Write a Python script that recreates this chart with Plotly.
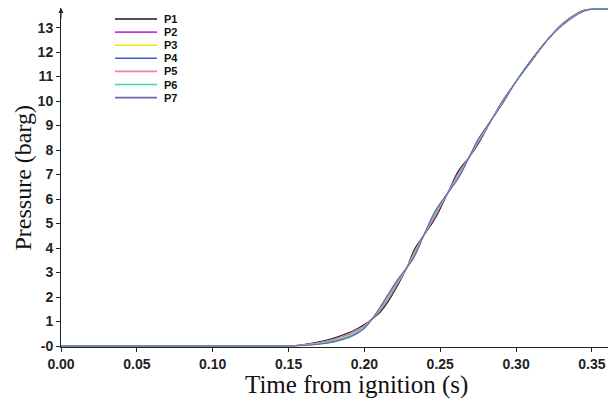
import plotly.graph_objects as go

time_s = [0, 0.10, 0.14, 0.15, 0.16, 0.17, 0.18, 0.19, 0.195, 0.20, 0.205, 0.21, 0.2155, 0.222,
          0.228, 0.233, 0.239, 0.247, 0.255, 0.262, 0.269, 0.275, 0.28, 0.29, 0.30, 0.31,
          0.32, 0.33, 0.34, 0.345, 0.35, 0.362]

p1 = [0, 0, 0, 0, 0.06, 0.17, 0.33, 0.55, 0.70, 0.88, 1.10, 1.35, 1.80, 2.48, 3.20, 3.95, 4.50,
      5.25, 6.25, 7.15, 7.70, 8.25, 8.80, 9.90, 10.80, 11.62, 12.45, 13.13, 13.58, 13.72, 13.75, 13.75]
p2 = [0, 0, 0, 0, 0.05, 0.14, 0.28, 0.49, 0.64, 0.83, 1.10, 1.41, 1.89, 2.55, 3.20, 3.86, 4.50,
      5.34, 6.25, 7.06, 7.70, 8.31, 8.83, 9.87, 10.80, 11.64, 12.45, 13.11, 13.56, 13.71, 13.75, 13.75]
p3 = [0, 0, 0, 0, 0.04, 0.11, 0.23, 0.43, 0.58, 0.78, 1.10, 1.47, 1.98, 2.62, 3.20, 3.77, 4.50,
      5.43, 6.25, 6.97, 7.70, 8.37, 8.86, 9.84, 10.80, 11.66, 12.45, 13.09, 13.54, 13.70, 13.75, 13.75]
p4 = [0, 0, 0, 0, 0.03, 0.09, 0.19, 0.38, 0.53, 0.74, 1.10, 1.52, 2.06, 2.68, 3.20, 3.70, 4.50,
      5.51, 6.25, 6.90, 7.70, 8.42, 8.89, 9.82, 10.80, 11.67, 12.45, 13.08, 13.53, 13.69, 13.75, 13.75]
p5 = [0, 0, 0, 0, 0.04, 0.13, 0.27, 0.47, 0.62, 0.82, 1.10, 1.43, 1.92, 2.58, 3.20, 3.83, 4.50,
      5.37, 6.25, 7.03, 7.70, 8.33, 8.84, 9.86, 10.80, 11.64, 12.45, 13.11, 13.56, 13.70, 13.75, 13.75]
p6 = [0, 0, 0, 0, 0.03, 0.10, 0.22, 0.41, 0.56, 0.77, 1.10, 1.49, 2.01, 2.65, 3.20, 3.74, 4.50,
      5.46, 6.25, 6.94, 7.70, 8.39, 8.87, 9.83, 10.80, 11.66, 12.45, 13.09, 13.54, 13.69, 13.75, 13.75]
p7 = [0, 0, 0, 0, 0.02, 0.07, 0.17, 0.35, 0.50, 0.72, 1.10, 1.55, 2.10, 2.72, 3.20, 3.65, 4.50,
      5.55, 6.25, 6.85, 7.70, 8.45, 8.90, 9.80, 10.80, 11.68, 12.45, 13.07, 13.52, 13.68, 13.75, 13.75]

series_names = ["P1", "P2", "P3", "P4", "P5", "P6", "P7"]
series_vals = [p1, p2, p3, p4, p5, p6, p7]
colors = ["#1a1a1a", "#c43cc4", "#e6e617", "#3b5bd6", "#e883b0", "#3fdca0", "#6b66b0"]

x_ticks = [0, 0.05, 0.10, 0.15, 0.20, 0.25, 0.30, 0.35]
x_ticklabels = ["0.00", "0.05", "0.10", "0.15", "0.20", "0.25", "0.30", "0.35"]
y_ticks = list(range(0, 14))
y_ticklabels = ["-0"] + [str(v) for v in range(1, 14)]

W, H = 610, 407
ML, MR, MT, MB = 61, 2, 8, 60
PW, PH = W - ML - MR, H - MT - MB

fig = go.Figure()
for name, vals, col in zip(series_names, series_vals, colors):
    fig.add_trace(go.Scatter(x=time_s, y=vals, name=name, mode="lines", showlegend=False,
                             line=dict(color=col, width=1.1, shape="spline", smoothing=1.0)))

# Compact legend (line samples + labels) in paper coordinates
shapes = []
annotations = []
leg_x0, leg_x1, leg_txt = 115, 157, 162
for i, (name, col) in enumerate(zip(series_names, colors)):
    ypix = 19 + 13.1 * i
    yp = 1 - (ypix - MT) / PH
    shapes.append(dict(type="line", xref="paper", yref="paper",
                       x0=(leg_x0 - ML) / PW, x1=(leg_x1 - ML) / PW, y0=yp, y1=yp,
                       line=dict(color=col, width=1.6)))
    annotations.append(dict(text="<b>" + name + "</b>", xref="paper", yref="paper",
                            x=(leg_txt - ML) / PW, y=yp, xanchor="left", yanchor="middle",
                            showarrow=False,
                            font=dict(family="Liberation Sans", size=11, color="#111")))

annotations += [
    dict(text="Time from ignition (s)", xref="paper", yref="paper",
         x=0.54, y=0, yshift=-38, showarrow=False, yanchor="middle", xanchor="center",
         font=dict(family="Liberation Serif", size=25, color="#111")),
    dict(text="Pressure (barg)", xref="paper", yref="paper",
         x=0, xshift=-39, y=0.5, textangle=-90, showarrow=False, xanchor="center",
         yanchor="middle",
         font=dict(family="Liberation Serif", size=24, color="#111")),
    dict(x=0, y=13.8, xref="x", yref="y", ax=0, ay=12, axref="pixel", ayref="pixel",
         showarrow=True, arrowhead=2, arrowsize=1, arrowwidth=1, arrowcolor="#222",
         text=""),
]

fig.update_layout(
    width=W, height=H,
    margin=dict(l=ML, r=MR, t=MT, b=MB),
    paper_bgcolor="white", plot_bgcolor="white",
    showlegend=False,
    shapes=shapes,
    annotations=annotations,
    xaxis=dict(range=[0, 0.3606], tickvals=x_ticks, ticktext=x_ticklabels,
               showgrid=False, zeroline=False, showline=True, linecolor="#222", linewidth=1,
               ticks="outside", ticklen=4, tickcolor="#222",
               tickfont=dict(family="Liberation Sans", size=14, color="#222", weight="bold")),
    yaxis=dict(range=[-0.04, 13.8], tickvals=y_ticks, ticktext=y_ticklabels,
               showgrid=False, zeroline=False, showline=True, linecolor="#222", linewidth=1,
               ticks="outside", ticklen=4, tickcolor="#222",
               tickfont=dict(family="Liberation Sans", size=14, color="#222", weight="bold")),
)

fig.write_html("out.html")
